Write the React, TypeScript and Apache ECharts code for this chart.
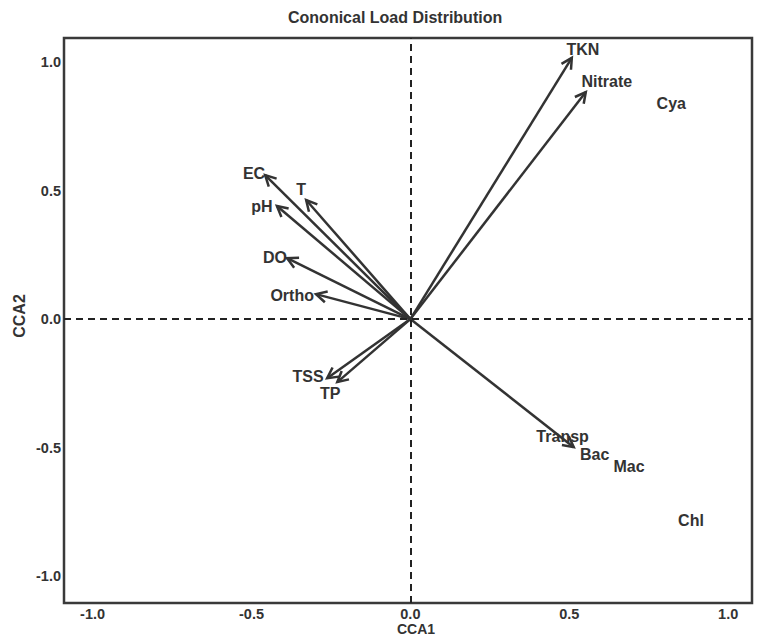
import React, { useEffect, useRef } from "react";
import * as echarts from "echarts";

// Environmental variable arrows (CCA1, CCA2)
const envNames = ["TKN", "Nitrate", "EC", "T", "pH", "DO", "Ortho", "TSS", "TP", "Transp"];
const envX = [0.508, 0.552, -0.457, -0.328, -0.42, -0.388, -0.297, -0.262, -0.23, 0.514];
const envY = [1.016, 0.883, 0.56, 0.463, 0.44, 0.237, 0.097, -0.23, -0.245, -0.498];
// Label anchor positions for the arrows
const envLabelX = [0.543, 0.618, -0.492, -0.344, -0.467, -0.426, -0.372, -0.322, -0.252, 0.479];
const envLabelY = [1.047, 0.922, 0.568, 0.502, 0.436, 0.241, 0.093, -0.222, -0.288, -0.455];

// Species scores
const spNames = ["Cya", "Bac", "Mac", "Chl"];
const spX = [0.821, 0.58, 0.688, 0.883];
const spY = [0.84, -0.525, -0.572, -0.782];

const tickValues = [-1.0, -0.5, 0.0, 0.5, 1.0];
const xAxisTitle = "CCA1";
const yAxisTitle = "CCA2";

const FONT = "'Liberation Sans', Arial, Helvetica, sans-serif";
const NARROW = "'Liberation Sans Narrow', 'Liberation Sans', Arial, sans-serif";
const INK = "#333333";

export default function App() {
  const ref = useRef<HTMLDivElement>(null);
  useEffect(() => {
    if (!ref.current) return;
    const chart = echarts.init(ref.current, undefined, { renderer: "svg" });
    const arrowData = envX.map((x, i) => [x, envY[i]]);
    const envLabelData = envLabelX.map((x, i) => [x, envLabelY[i]]);
    const spData = spX.map((x, i) => [x, spY[i]]);

    const axisCommon = {
      type: "value" as const,
      axisLine: { show: false },
      axisTick: { show: false },
      splitLine: { show: false },
      axisLabel: {
        customValues: tickValues,
        formatter: (v: number) => v.toFixed(1),
        fontFamily: FONT,
        fontWeight: "bold",
        fontSize: 14.5,
        color: INK,
        margin: 3,
      },
    };

    chart.setOption({
      animation: false,
      backgroundColor: "#ffffff",
      title: {
        text: "Cononical Load Distribution",
        left: 283,
        top: 4,
        textStyle: { fontFamily: FONT, fontWeight: "bold", fontSize: 16, color: INK },
      },
      grid: {
        left: 64,
        top: 38,
        width: 688,
        height: 565,
        show: true,
        borderColor: "#3a3a3a",
        borderWidth: 2.5,
        backgroundColor: "transparent",
        outerBoundsMode: "none",
        containLabel: false,
      },
      xAxis: { ...axisCommon, min: -1.09, max: 1.075 },
      yAxis: { ...axisCommon, min: -1.104, max: 1.093 },
      graphic: [
        {
          type: "text",
          x: 416,
          y: 629,
          style: {
            text: xAxisTitle,
            fill: INK,
            font: `bold 14px ${NARROW}`,
            align: "center",
            verticalAlign: "middle",
          },
        },
        {
          type: "text",
          x: 19,
          y: 316,
          rotation: Math.PI / 2,
          style: {
            text: yAxisTitle,
            fill: INK,
            font: `bold 16px ${NARROW}`,
            align: "center",
            verticalAlign: "middle",
          },
        },
      ],
      series: [
        {
          type: "custom",
          coordinateSystem: "cartesian2d",
          silent: true,
          data: arrowData,
          markLine: {
            silent: true,
            symbol: ["none", "none"],
            label: { show: false },
            lineStyle: { type: [7, 5], color: "#222222", width: 2 },
            data: [{ xAxis: 0 }, { yAxis: 0 }],
          },
          renderItem: (params: any, api: any) => {
            const p0 = api.coord([0, 0]);
            const p1 = api.coord([api.value(0), api.value(1)]);
            const ang = Math.atan2(p1[1] - p0[1], p1[0] - p0[0]);
            const L = 12;
            const spread = Math.PI / 6.5;
            const a1 = [p1[0] - L * Math.cos(ang - spread), p1[1] - L * Math.sin(ang - spread)];
            const a2 = [p1[0] - L * Math.cos(ang + spread), p1[1] - L * Math.sin(ang + spread)];
            return {
              type: "group",
              children: [
                {
                  type: "line",
                  shape: { x1: p0[0], y1: p0[1], x2: p1[0], y2: p1[1] },
                  style: { stroke: INK, lineWidth: 2.5 },
                },
                {
                  type: "polyline",
                  shape: { points: [a1, p1, a2] },
                  style: { stroke: INK, lineWidth: 2.5, fill: null, lineJoin: "miter" },
                },
              ],
            };
          },
        },
        {
          type: "custom",
          coordinateSystem: "cartesian2d",
          silent: true,
          data: envLabelData,
          renderItem: (params: any, api: any) => {
            const p = api.coord([api.value(0), api.value(1)]);
            return {
              type: "text",
              x: p[0],
              y: p[1],
              style: {
                text: envNames[params.dataIndex],
                fill: INK,
                font: `bold 16px ${FONT}`,
                align: "center",
                verticalAlign: "middle",
              },
            };
          },
        },
        {
          type: "custom",
          coordinateSystem: "cartesian2d",
          silent: true,
          data: spData,
          renderItem: (params: any, api: any) => {
            const p = api.coord([api.value(0), api.value(1)]);
            return {
              type: "text",
              x: p[0],
              y: p[1],
              style: {
                text: spNames[params.dataIndex],
                fill: INK,
                font: `bold 16px ${FONT}`,
                align: "center",
                verticalAlign: "middle",
              },
            };
          },
        },
      ],
    });
    return () => chart.dispose();
  }, []);
  return (
    <div
      ref={ref}
      style={{ position: "fixed", left: 0, top: 0, width: 764, height: 636, background: "#fff" }}
    />
  );
}
